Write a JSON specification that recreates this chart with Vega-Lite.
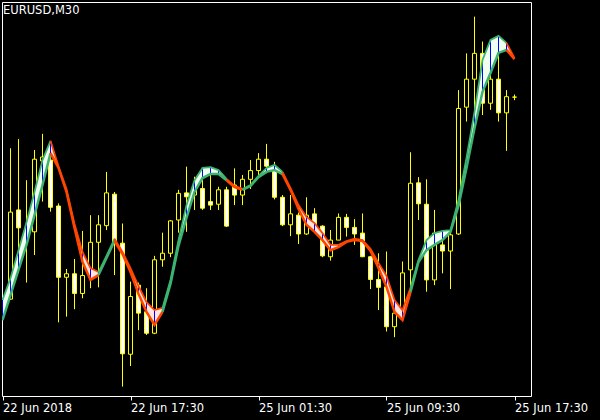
{
  "$schema": "https://vega.github.io/schema/vega-lite/v6.json",
  "width": 529,
  "height": 394,
  "autosize": {"type": "none"},
  "padding": {"left": 2, "top": 2, "right": 69, "bottom": 24},
  "background": "black",
  "view": {"stroke": "white", "strokeWidth": 1, "fill": "black"},
  "title": {"text": "EURUSD,M30", "anchor": "start", "orient": "top", "offset": 0, "dy": 23, "baseline": "alphabetic", "color": "white", "font": "DejaVu Sans", "fontSize": 11.5, "fontWeight": "normal", "dx": 1},
  "config": {"axis": {"grid": false, "domain": false, "tickColor": "white", "labelColor": "white", "labelFont": "DejaVu Sans", "labelFontSize": 11.5, "tickSize": 4, "title": null}},
  "datasets": {
    "candles": [
      {"i":0,"o":1.16371,"h":1.16716,"l":1.16369,"c":1.16570},
      {"i":1,"o":1.16575,"h":1.16737,"l":1.16449,"c":1.16534},
      {"i":2,"o":1.16511,"h":1.16643,"l":1.16409,"c":1.16527},
      {"i":3,"o":1.16525,"h":1.16712,"l":1.16472,"c":1.16691},
      {"i":4,"o":1.16687,"h":1.16749,"l":1.16594,"c":1.16696},
      {"i":5,"o":1.16689,"h":1.16724,"l":1.16571,"c":1.16581},
      {"i":6,"o":1.16584,"h":1.16590,"l":1.16318,"c":1.16421},
      {"i":7,"o":1.16421,"h":1.16440,"l":1.16331,"c":1.16429},
      {"i":8,"o":1.16429,"h":1.16463,"l":1.16348,"c":1.16384},
      {"i":9,"o":1.16384,"h":1.16527,"l":1.16373,"c":1.16425},
      {"i":10,"o":1.16431,"h":1.16563,"l":1.16396,"c":1.16501},
      {"i":11,"o":1.16501,"h":1.16563,"l":1.16398,"c":1.16541},
      {"i":12,"o":1.16539,"h":1.16662,"l":1.16529,"c":1.16614},
      {"i":13,"o":1.16611,"h":1.16616,"l":1.16426,"c":1.16502},
      {"i":14,"o":1.16499,"h":1.16544,"l":1.16171,"c":1.16246},
      {"i":15,"o":1.16245,"h":1.16411,"l":1.16218,"c":1.16377},
      {"i":16,"o":1.16403,"h":1.16409,"l":1.16300,"c":1.16339},
      {"i":17,"o":1.16342,"h":1.16396,"l":1.16289,"c":1.16293},
      {"i":18,"o":1.16293,"h":1.16470,"l":1.16291,"c":1.16461},
      {"i":19,"o":1.16461,"h":1.16523,"l":1.16445,"c":1.16476},
      {"i":20,"o":1.16476,"h":1.16552,"l":1.16467,"c":1.16550},
      {"i":21,"o":1.16552,"h":1.16621,"l":1.16523,"c":1.16613},
      {"i":22,"o":1.16614,"h":1.16674,"l":1.16525,"c":1.16605},
      {"i":23,"o":1.16609,"h":1.16651,"l":1.16575,"c":1.16624},
      {"i":24,"o":1.16624,"h":1.16653,"l":1.16575,"c":1.16579},
      {"i":25,"o":1.16594,"h":1.16655,"l":1.16575,"c":1.16586},
      {"i":26,"o":1.16588,"h":1.16628,"l":1.16575,"c":1.16621},
      {"i":27,"o":1.16621,"h":1.16628,"l":1.16536,"c":1.16538},
      {"i":28,"o":1.16632,"h":1.16670,"l":1.16586,"c":1.16609},
      {"i":29,"o":1.16609,"h":1.16655,"l":1.16586,"c":1.16645},
      {"i":30,"o":1.16645,"h":1.16689,"l":1.16623,"c":1.16665},
      {"i":31,"o":1.16665,"h":1.16705,"l":1.16655,"c":1.16691},
      {"i":32,"o":1.16691,"h":1.16726,"l":1.16659,"c":1.16675},
      {"i":33,"o":1.16672,"h":1.16685,"l":1.16599,"c":1.16604},
      {"i":34,"o":1.16604,"h":1.16609,"l":1.16538,"c":1.16541},
      {"i":35,"o":1.16541,"h":1.16609,"l":1.16515,"c":1.16566},
      {"i":36,"o":1.16563,"h":1.16569,"l":1.16497,"c":1.16520},
      {"i":37,"o":1.16520,"h":1.16604,"l":1.16518,"c":1.16563},
      {"i":38,"o":1.16566,"h":1.16579,"l":1.16534,"c":1.16537},
      {"i":39,"o":1.16538,"h":1.16540,"l":1.16467,"c":1.16470},
      {"i":40,"o":1.16468,"h":1.16529,"l":1.16459,"c":1.16506},
      {"i":41,"o":1.16506,"h":1.16567,"l":1.16506,"c":1.16558},
      {"i":42,"o":1.16558,"h":1.16566,"l":1.16514,"c":1.16535},
      {"i":43,"o":1.16535,"h":1.16554,"l":1.16495,"c":1.16520},
      {"i":44,"o":1.16522,"h":1.16567,"l":1.16467,"c":1.16468},
      {"i":45,"o":1.16468,"h":1.16470,"l":1.16394,"c":1.16416},
      {"i":46,"o":1.16416,"h":1.16476,"l":1.16346,"c":1.16398},
      {"i":47,"o":1.16399,"h":1.16480,"l":1.16297,"c":1.16308},
      {"i":48,"o":1.16308,"h":1.16346,"l":1.16284,"c":1.16339},
      {"i":49,"o":1.16339,"h":1.16457,"l":1.16335,"c":1.16431},
      {"i":50,"o":1.16438,"h":1.16707,"l":1.16384,"c":1.16636},
      {"i":51,"o":1.16637,"h":1.16650,"l":1.16552,"c":1.16589},
      {"i":52,"o":1.16588,"h":1.16645,"l":1.16388,"c":1.16415},
      {"i":53,"o":1.16415,"h":1.16575,"l":1.16403,"c":1.16522},
      {"i":54,"o":1.16495,"h":1.16518,"l":1.16430,"c":1.16481},
      {"i":55,"o":1.16481,"h":1.16529,"l":1.16394,"c":1.16518},
      {"i":56,"o":1.16520,"h":1.16849,"l":1.16518,"c":1.16807},
      {"i":57,"o":1.16810,"h":1.16933,"l":1.16777,"c":1.16874},
      {"i":58,"o":1.16874,"h":1.17017,"l":1.16792,"c":1.16933},
      {"i":59,"o":1.16933,"h":1.16960,"l":1.16792,"c":1.16819},
      {"i":60,"o":1.16819,"h":1.16906,"l":1.16804,"c":1.16874},
      {"i":61,"o":1.16874,"h":1.16933,"l":1.16777,"c":1.16797},
      {"i":62,"o":1.16797,"h":1.16849,"l":1.16710,"c":1.16834},
      {"i":63,"o":1.16833,"h":1.16839,"l":1.16826,"c":1.16833}
    ],
    "band": [
      {"s":1,"d":"up","i":-1,"a":1.16323,"b":1.16369},
      {"s":1,"d":"up","i":0,"a":1.16380,"b":1.16419},
      {"s":1,"d":"up","i":1,"a":1.16438,"b":1.16483},
      {"s":1,"d":"up","i":2,"a":1.16495,"b":1.16547},
      {"s":1,"d":"up","i":3,"a":1.16563,"b":1.16616},
      {"s":1,"d":"up","i":4,"a":1.16632,"b":1.16689},
      {"s":1,"d":"up","i":5,"a":1.16705,"b":1.16733},
      {"s":2,"d":"dn","i":5,"a":1.16705,"b":1.16733},
      {"s":2,"d":"dn","i":6,"a":1.16671,"b":1.16675},
      {"s":2,"d":"dn","i":7,"a":1.16616,"b":1.16623},
      {"s":2,"d":"dn","i":8,"a":1.16534,"b":1.16543},
      {"s":2,"d":"dn","i":9,"a":1.16456,"b":1.16479},
      {"s":2,"d":"dn","i":10,"a":1.16415,"b":1.16442},
      {"s":2,"d":"dn","i":11,"a":1.16426,"b":1.16433},
      {"s":3,"d":"up","i":11,"a":1.16426,"b":1.16433},
      {"s":3,"d":"up","i":12,"a":1.16465,"b":1.16470},
      {"s":3,"d":"up","i":13,"a":1.16504,"b":1.16509},
      {"s":4,"d":"dn","i":13,"a":1.16504,"b":1.16509},
      {"s":4,"d":"dn","i":14,"a":1.16474,"b":1.16479},
      {"s":4,"d":"dn","i":15,"a":1.16433,"b":1.16442},
      {"s":4,"d":"dn","i":16,"a":1.16383,"b":1.16401},
      {"s":4,"d":"dn","i":17,"a":1.16342,"b":1.16364},
      {"s":4,"d":"dn","i":18,"a":1.16312,"b":1.16346},
      {"s":4,"d":"dn","i":19,"a":1.16342,"b":1.16351},
      {"s":5,"d":"up","i":19,"a":1.16342,"b":1.16351},
      {"s":5,"d":"up","i":20,"a":1.16406,"b":1.16415},
      {"s":5,"d":"up","i":21,"a":1.16493,"b":1.16506},
      {"s":5,"d":"up","i":22,"a":1.16557,"b":1.16586},
      {"s":5,"d":"up","i":23,"a":1.16616,"b":1.16643},
      {"s":5,"d":"up","i":24,"a":1.16648,"b":1.16671},
      {"s":5,"d":"up","i":25,"a":1.16657,"b":1.16673},
      {"s":5,"d":"up","i":26,"a":1.16657,"b":1.16666},
      {"s":5,"d":"up","i":27,"a":1.16643,"b":1.16646},
      {"s":6,"d":"dn","i":27,"a":1.16643,"b":1.16646},
      {"s":6,"d":"dn","i":28,"a":1.16627,"b":1.16630},
      {"s":6,"d":"dn","i":29,"a":1.16621,"b":1.16623},
      {"s":7,"d":"up","i":29,"a":1.16621,"b":1.16623},
      {"s":7,"d":"up","i":30,"a":1.16630,"b":1.16632},
      {"s":7,"d":"up","i":31,"a":1.16650,"b":1.16653},
      {"s":7,"d":"up","i":32,"a":1.16662,"b":1.16671},
      {"s":7,"d":"up","i":33,"a":1.16666,"b":1.16678},
      {"s":7,"d":"up","i":34,"a":1.16657,"b":1.16662},
      {"s":8,"d":"dn","i":34,"a":1.16657,"b":1.16662},
      {"s":8,"d":"dn","i":35,"a":1.16621,"b":1.16625},
      {"s":8,"d":"dn","i":36,"a":1.16577,"b":1.16586},
      {"s":8,"d":"dn","i":37,"a":1.16541,"b":1.16559},
      {"s":8,"d":"dn","i":38,"a":1.16525,"b":1.16545},
      {"s":8,"d":"dn","i":39,"a":1.16506,"b":1.16522},
      {"s":8,"d":"dn","i":40,"a":1.16483,"b":1.16495},
      {"s":8,"d":"dn","i":41,"a":1.16490,"b":1.16495},
      {"s":8,"d":"dn","i":42,"a":1.16502,"b":1.16504},
      {"s":8,"d":"dn","i":43,"a":1.16506,"b":1.16509},
      {"s":8,"d":"dn","i":44,"a":1.16504,"b":1.16506},
      {"s":8,"d":"dn","i":45,"a":1.16481,"b":1.16486},
      {"s":8,"d":"dn","i":46,"a":1.16442,"b":1.16454},
      {"s":8,"d":"dn","i":47,"a":1.16399,"b":1.16424},
      {"s":8,"d":"dn","i":48,"a":1.16342,"b":1.16369},
      {"s":8,"d":"dn","i":49,"a":1.16323,"b":1.16346},
      {"s":8,"d":"dn","i":50,"a":1.16387,"b":1.16397},
      {"s":9,"d":"up","i":50,"a":1.16387,"b":1.16397},
      {"s":9,"d":"up","i":51,"a":1.16456,"b":1.16461},
      {"s":9,"d":"up","i":52,"a":1.16483,"b":1.16506},
      {"s":9,"d":"up","i":53,"a":1.16495,"b":1.16522},
      {"s":9,"d":"up","i":54,"a":1.16506,"b":1.16527},
      {"s":9,"d":"up","i":55,"a":1.16525,"b":1.16529},
      {"s":9,"d":"up","i":56,"a":1.16584,"b":1.16598},
      {"s":9,"d":"up","i":57,"a":1.16671,"b":1.16694},
      {"s":9,"d":"up","i":58,"a":1.16762,"b":1.16799},
      {"s":9,"d":"up","i":59,"a":1.16845,"b":1.16918},
      {"s":9,"d":"up","i":60,"a":1.16888,"b":1.16964},
      {"s":9,"d":"up","i":61,"a":1.16934,"b":1.16973},
      {"s":9,"d":"up","i":62,"a":1.16941,"b":1.16957},
      {"s":10,"d":"dn","i":62,"a":1.16941,"b":1.16957},
      {"s":10,"d":"dn","i":63,"a":1.16920,"b":1.16922}
    ]
  },
  "encoding": {
    "x": {
      "field": "i", "type": "quantitative",
      "scale": {"domain": [-1.0625, 65.0625], "nice": false, "zero": false, "padding": 0},
      "axis": {
        "orient": "bottom", "values": [-1, 15, 31, 47, 63],
        "labelExpr": "datum.value == -1 ? '22 Jun 2018' : datum.value == 15 ? '22 Jun 17:30' : datum.value == 31 ? '25 Jun 01:30' : datum.value == 47 ? '25 Jun 09:30' : '25 Jun 17:30'",
        "labelAlign": "left", "labelBaseline": "top", "labelPadding": 2,
        "labelOverlap": false, "labelBound": false, "labelFlush": false, "title": null
      }
    }
  },
  "layer": [
    {
      "data": {"name": "candles"},
      "mark": {"type": "rule", "color": "#FFFF00", "strokeWidth": 1, "clip": true},
      "encoding": {
        "y": {
          "field": "l", "type": "quantitative",
          "scale": {"domain": [1.161495, 1.170505], "nice": false, "zero": false, "padding": 0},
          "axis": {
            "orient": "right", "values": [1.16225, 1.163, 1.16375, 1.1645, 1.16525, 1.166, 1.16675, 1.1675, 1.16825, 1.169, 1.16975],
            "format": ".5f", "labelPadding": 1, "labelAlign": "left", "labelBaseline": "middle", "title": null
          }
        },
        "y2": {"field": "h"}
      }
    },
    {
      "data": {"name": "candles"},
      "mark": {"type": "bar", "size": 4, "stroke": "#FFFF00", "strokeWidth": 1, "clip": true},
      "encoding": {
        "y": {"field": "o", "type": "quantitative", "scale": {"domain": [1.161495, 1.170505], "nice": false, "zero": false, "padding": 0}, "axis": null},
        "y2": {"field": "c"},
        "fill": {"condition": {"test": "datum.c < datum.o", "value": "white"}, "value": "black"}
      }
    },
    {
      "data": {"name": "band"},
      "mark": {"type": "area", "opacity": 1, "clip": true},
      "encoding": {
        "y": {"field": "a", "type": "quantitative", "scale": {"domain": [1.161495, 1.170505], "nice": false, "zero": false, "padding": 0}, "axis": null},
        "y2": {"field": "b"},
        "detail": {"field": "s"},
        "fill": {"field": "d", "type": "nominal", "scale": {"domain": ["up", "dn"], "range": ["#F0FFF0", "#FFE4E1"]}, "legend": null}
      }
    },
    {
      "data": {"name": "band"},
      "mark": {"type": "rule", "color": "#0000FF", "strokeWidth": 1, "clip": true},
      "encoding": {
        "y": {"field": "a", "type": "quantitative", "scale": {"domain": [1.161495, 1.170505], "nice": false, "zero": false, "padding": 0}, "axis": null},
        "y2": {"field": "b"}
      }
    },
    {
      "data": {"name": "band"},
      "mark": {"type": "line", "strokeWidth": 1.8, "clip": true},
      "encoding": {
        "y": {"field": "b", "type": "quantitative", "scale": {"domain": [1.161495, 1.170505], "nice": false, "zero": false, "padding": 0}, "axis": null},
        "detail": {"field": "s"},
        "stroke": {"field": "d", "type": "nominal", "scale": {"domain": ["up", "dn"], "range": ["#3CB371", "#FF4500"]}, "legend": null}
      }
    },
    {
      "data": {"name": "band"},
      "mark": {"type": "line", "strokeWidth": 2.5, "clip": true},
      "encoding": {
        "y": {"field": "a", "type": "quantitative", "scale": {"domain": [1.161495, 1.170505], "nice": false, "zero": false, "padding": 0}, "axis": null},
        "detail": {"field": "s"},
        "stroke": {"field": "d", "type": "nominal", "scale": {"domain": ["up", "dn"], "range": ["#3CB371", "#FF4500"]}, "legend": null}
      }
    }
  ]
}
